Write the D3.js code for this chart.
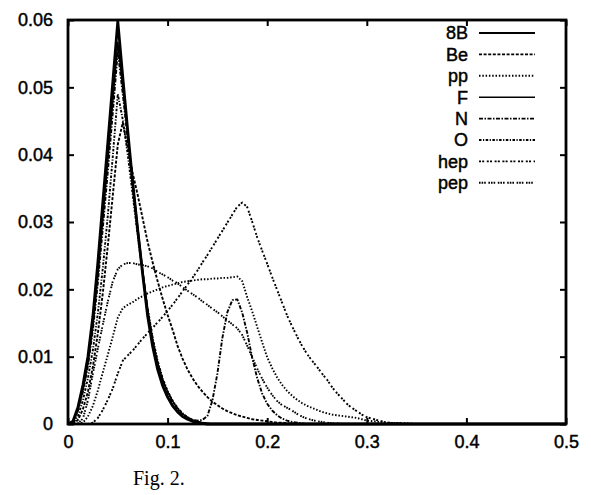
<!DOCTYPE html>
<html>
<head>
<meta charset="utf-8">
<script src="https://cdn.jsdelivr.net/npm/d3@7"></script>
<style>
  body { margin: 0; background: #fff; }
  .tick text, .leglabel {
    font-family: "Liberation Sans", Arial, sans-serif; font-size: 18px;
    fill: #000; stroke: #000; stroke-width: 0.45px;
  }
  .caption { font-family: "Liberation Serif", "Times New Roman", serif; font-size: 20px; fill: #000; }
</style>
</head>
<body>
<div id="chart"></div>
<script>

// Radius grid (fraction of solar radius).
const radius = [
	0, 0.005, 0.01, 0.015, 0.02, 0.025, 0.03, 0.035, 0.04, 0.045,
	0.05, 0.055, 0.06, 0.065, 0.07, 0.075, 0.08, 0.085, 0.09, 0.095,
	0.1, 0.105, 0.11, 0.115, 0.12, 0.125, 0.13, 0.135, 0.14, 0.145,
	0.15, 0.155, 0.16, 0.165, 0.17, 0.175, 0.18, 0.185, 0.19, 0.195,
	0.2, 0.205, 0.21, 0.215, 0.22, 0.225, 0.23, 0.235, 0.24, 0.245,
	0.25, 0.255, 0.26, 0.265, 0.27, 0.275, 0.28, 0.285, 0.29, 0.295,
	0.3, 0.32, 0.35, 0.4, 0.5
];

// Production distributions.
const b8 = [
	0, 0.0004, 0.0025, 0.0058, 0.0100, 0.0160, 0.0240, 0.0330, 0.0418, 0.0508,
	0.0598, 0.0515, 0.0435, 0.0358, 0.0288, 0.0222, 0.0160, 0.0115, 0.0081, 0.0057,
	0.0040, 0.0027, 0.0018, 0.0011, 0.0007, 0.0004, 0.0002, 0.0001, 0, 0,
	0, 0, 0, 0, 0, 0, 0, 0, 0, 0,
	0, 0, 0, 0, 0, 0, 0, 0, 0, 0,
	0, 0, 0, 0, 0, 0, 0, 0, 0, 0,
	0, 0, 0, 0, 0
];
const be7 = [
	0, 0, 0.0006, 0.0022, 0.0048, 0.0085, 0.0135, 0.0195, 0.0265, 0.0340,
	0.0415, 0.0448, 0.0410, 0.0372, 0.0340, 0.0305, 0.0270, 0.0240, 0.0212, 0.0186,
	0.0162, 0.0140, 0.0116, 0.0097, 0.0081, 0.0068, 0.0057, 0.0048, 0.0040, 0.0033,
	0.0028, 0.0023, 0.0019, 0.0016, 0.0013, 0.0011, 0.0009, 0.0007, 0.0006, 0.0005,
	0.0004, 0.0003, 0.0002, 0.0002, 0.0001, 0.0001, 0, 0, 0, 0,
	0, 0, 0, 0, 0, 0, 0, 0, 0, 0,
	0, 0, 0, 0, 0
];
const pp = [
	0, 0, 0, 0.0002, 0.0011, 0.0027, 0.0050, 0.0077, 0.0103, 0.0130,
	0.0158, 0.0172, 0.0177, 0.0181, 0.0186, 0.0190, 0.0194, 0.0197, 0.0200, 0.0203,
	0.0205, 0.0207, 0.0209, 0.0211, 0.0212, 0.0213, 0.0214, 0.0215, 0.0215, 0.0216,
	0.0216, 0.0217, 0.0217, 0.0218, 0.0219, 0.0212, 0.0188, 0.0167, 0.0144, 0.0121,
	0.0099, 0.0083, 0.0069, 0.0058, 0.0049, 0.0042, 0.0036, 0.0031, 0.0027, 0.0024,
	0.0021, 0.0018, 0.0016, 0.0014, 0.0013, 0.0012, 0.0011, 0.0010, 0.0009, 0.0007,
	0.0005, 0.0002, 0, 0, 0
];
const f17 = [
	0, 0.0003, 0.0021, 0.0050, 0.0090, 0.0145, 0.0220, 0.0305, 0.0392, 0.0480,
	0.0567, 0.0500, 0.0430, 0.0360, 0.0292, 0.0228, 0.0170, 0.0125, 0.0091, 0.0066,
	0.0048, 0.0034, 0.0023, 0.0015, 0.0010, 0.0006, 0.0004, 0.0002, 0.0001, 0,
	0, 0, 0, 0, 0, 0, 0, 0, 0, 0,
	0, 0, 0, 0, 0, 0, 0, 0, 0, 0,
	0, 0, 0, 0, 0, 0, 0, 0, 0, 0,
	0, 0, 0, 0, 0
];
const n13 = [
	0, 0.0003, 0.0020, 0.0048, 0.0086, 0.0140, 0.0210, 0.0292, 0.0375, 0.0463,
	0.0553, 0.0490, 0.0422, 0.0352, 0.0286, 0.0224, 0.0168, 0.0124, 0.0090, 0.0065,
	0.0046, 0.0032, 0.0022, 0.0014, 0.0009, 0.0006, 0.0005, 0.0006, 0.0012, 0.0035,
	0.0075, 0.0128, 0.0166, 0.0184, 0.0185, 0.0165, 0.0135, 0.0098, 0.0068, 0.0045,
	0.0030, 0.0020, 0.0013, 0.0008, 0.0005, 0.0003, 0.0002, 0.0001, 0, 0,
	0, 0, 0, 0, 0, 0, 0, 0, 0, 0,
	0, 0, 0, 0, 0
];
const o15 = [
	0, 0.0001, 0.0012, 0.0035, 0.0068, 0.0110, 0.0165, 0.0232, 0.0310, 0.0398,
	0.0490, 0.0452, 0.0400, 0.0340, 0.0280, 0.0224, 0.0172, 0.0128, 0.0094, 0.0068,
	0.0049, 0.0035, 0.0024, 0.0016, 0.0010, 0.0006, 0.0003, 0.0001, 0, 0,
	0, 0, 0, 0, 0, 0, 0, 0, 0, 0,
	0, 0, 0, 0, 0, 0, 0, 0, 0, 0,
	0, 0, 0, 0, 0, 0, 0, 0, 0, 0,
	0, 0, 0, 0, 0
];
const hep = [
	0, 0, 0, 0, 0, 0.0002, 0.0009, 0.0021, 0.0036, 0.0053,
	0.0075, 0.0094, 0.0102, 0.0109, 0.0118, 0.0127, 0.0135, 0.0143, 0.0151, 0.0159,
	0.0168, 0.0177, 0.0187, 0.0197, 0.0207, 0.0217, 0.0228, 0.0240, 0.0251, 0.0263,
	0.0275, 0.0287, 0.0299, 0.0311, 0.0323, 0.0329, 0.0322, 0.0300, 0.0277, 0.0257,
	0.0238, 0.0218, 0.0199, 0.0180, 0.0161, 0.0145, 0.0130, 0.0116, 0.0104, 0.0094,
	0.0085, 0.0075, 0.0066, 0.0055, 0.0046, 0.0038, 0.0030, 0.0024, 0.0019, 0.0014,
	0.0010, 0.0002, 0, 0, 0
];
const pep = [
	0, 0, 0.0001, 0.0008, 0.0035, 0.0075, 0.0112, 0.0148, 0.0182, 0.0212,
	0.0230, 0.0237, 0.0239, 0.0239, 0.0237, 0.0236, 0.0234, 0.0231, 0.0226, 0.0222,
	0.0218, 0.0213, 0.0209, 0.0203, 0.0198, 0.0193, 0.0188, 0.0182, 0.0177, 0.0171,
	0.0166, 0.0160, 0.0154, 0.0148, 0.0142, 0.0132, 0.0116, 0.0099, 0.0082, 0.0067,
	0.0054, 0.0043, 0.0034, 0.0028, 0.0024, 0.0020, 0.0015, 0.0011, 0.0008, 0.0006,
	0.0004, 0.0003, 0.0002, 0.0001, 0.0001, 0, 0, 0, 0, 0,
	0, 0, 0, 0, 0
];

// Legend names, in legend order.
const names = ["8B", "Be", "pp", "F", "N", "O", "hep", "pep"];
const values = [b8, be7, pp, f17, n13, o15, hep, pep];

// Tick values and labels.
const xTicks = [0, 0.1, 0.2, 0.3, 0.4, 0.5],
	xTickLabels = ["0", "0.1", "0.2", "0.3", "0.4", "0.5"];
const yTicks = [0, 0.01, 0.02, 0.03, 0.04, 0.05, 0.06],
	yTickLabels = ["0", "0.01", "0.02", "0.03", "0.04", "0.05", "0.06"];

// Line styles per series.
const styles = {
	"8B":  { w: 2.8, dash: null },
	"Be":  { w: 1.9, dash: "3,1.6" },
	"pp":  { w: 1.9, dash: "1.5,1.8" },
	"F":   { w: 1.6, dash: null },
	"N":   { w: 1.9, dash: "4,1.5,1.5,1.5" },
	"O":   { w: 1.9, dash: "2.5,1.5,1.2,1.5" },
	"hep": { w: 1.9, dash: "2,1.2,2,2.6" },
	"pep": { w: 1.9, dash: "1.6,1,1.6,1,1.6,2.6" }
};


// Dimensions of chart.
const W = 591, H = 495;
let margin = { top: 20, right: 25, bottom: 71, left: 68 },
	width = W - margin.left - margin.right,
	height = H - margin.top - margin.bottom;

let svg = d3.select("#chart").append("svg")
	.attr("width", W)
	.attr("height", H);

let g = svg.append("g")
	.attr("transform", "translate(" + margin.left + "," + margin.top + ")");


// Scales
let x = d3.scaleLinear()
	.domain([0, 0.5])
	.range([0, width]);

let y = d3.scaleLinear()
	.domain([0, 0.06])
	.range([height, 0]);


// Axes, ticks pointing inward on all four sides.
g.append("g")
	.attr("transform", "translate(0," + height + ")")
	.call(d3.axisBottom(x).tickValues(xTicks)
		.tickFormat((d, i) => xTickLabels[i])
		.tickSize(-6).tickPadding(11));
g.append("g")
	.call(d3.axisTop(x).tickValues(xTicks).tickFormat("").tickSize(-6));
g.append("g")
	.call(d3.axisLeft(y).tickValues(yTicks)
		.tickFormat((d, i) => yTickLabels[i])
		.tickSize(-6).tickPadding(15));
g.append("g")
	.attr("transform", "translate(" + width + ",0)")
	.call(d3.axisRight(y).tickValues(yTicks).tickFormat("").tickSize(-6));

g.selectAll(".domain").remove();
g.selectAll(".tick line").attr("stroke", "#000").attr("stroke-width", 2);


// Curves
let line = d3.line()
	.x((d, i) => x(radius[i]))
	.y(d => y(d));

g.append("g")
	.selectAll("path")
	.data(names)
	.join("path")
	.attr("fill", "none")
	.attr("stroke", "#000")
	.attr("stroke-width", d => styles[d].w)
	.attr("stroke-dasharray", d => styles[d].dash)
	.attr("stroke-linejoin", "round")
	.attr("d", (d, i) => line(values[i]));


// Frame
g.append("rect")
	.attr("width", width)
	.attr("height", height)
	.attr("fill", "none")
	.attr("stroke", "#000")
	.attr("stroke-width", 2.8);


// Legend
const legX = 400, legY = 13, legRow = 21.4;
let legend = g.append("g")
	.attr("transform", "translate(" + legX + "," + legY + ")");
let row = legend.selectAll("g")
	.data(names)
	.join("g")
	.attr("transform", (d, i) => "translate(0," + (i * legRow) + ")");
row.append("text")
	.attr("class", "leglabel")
	.attr("x", 0)
	.attr("dy", "0.35em")
	.attr("text-anchor", "end")
	.text(d => d);
row.append("line")
	.attr("x1", 11).attr("x2", 67)
	.attr("stroke", "#000")
	.attr("stroke-width", d => Math.min(styles[d].w, 2))
	.attr("stroke-dasharray", d => styles[d].dash);


// Caption
svg.append("text")
	.attr("class", "caption")
	.attr("x", 133)
	.attr("y", 485)
	.text("Fig. 2.");

</script>
</body>
</html>
